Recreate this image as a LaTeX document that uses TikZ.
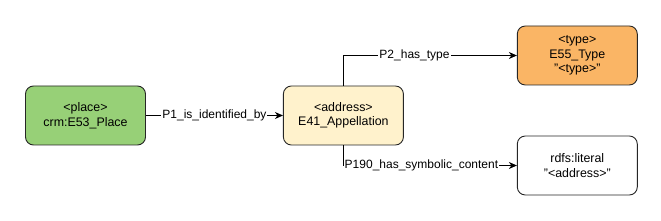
\documentclass[tikz,border=0pt]{standalone}
\usepackage{fontspec}
\setmainfont{Liberation Sans}
\usepackage{xcolor}
\usepackage{tikz}
\usetikzlibrary{arrows.meta, positioning}
\definecolor{placegreen}{HTML}{97D077}
\definecolor{addryellow}{HTML}{FFF2CC}
\definecolor{typeorange}{HTML}{FAB565}
\tikzset{
  entbox/.style={rectangle, draw=black!85, line width=0.9pt, rounded corners=8pt,
                 minimum width=120pt, minimum height=59pt, align=center,
                 font=\fontsize{12.4}{14.5}\selectfont},
  proplabel/.style={fill=white, inner sep=1pt, font=\fontsize{12}{13}\selectfont},
  arr/.style={-{Stealth[length=8pt, width=7pt, inset=2.5pt]}, line width=0.9pt},
}

\begin{document}
\begin{tikzpicture}[node distance=137pt]
  \useasboundingbox (0pt,0pt) rectangle (661pt,-221pt);

  % Nodes
  \node [entbox, fill=placegreen] at (85.5pt,-115.5pt) (place)
    {<place>\\crm:E53\_Place};
  \node [entbox, fill=addryellow, right=of place] (address)
    {<address>\\E41\_Appellation};
  \node [entbox, fill=typeorange, right=113pt of address, yshift=60pt] (type)
    {<type>\\E55\_Type\\"<type>"};
  \node [entbox, fill=white, right=113pt of address, yshift=-50pt] (literal)
    {rdfs:literal\\"<address>"};

  % Edges
  \draw [arr] (place) -- node[proplabel] {P1\_is\_identified\_by} (address);
  \draw [arr] (address.north) |- node[proplabel, pos=0.705] {P2\_has\_type} (type.west);
  \draw [arr] (address.south) |- node[proplabel, pos=0.725] {P190\_has\_symbolic\_content} (literal.west);
\end{tikzpicture}
\end{document}
